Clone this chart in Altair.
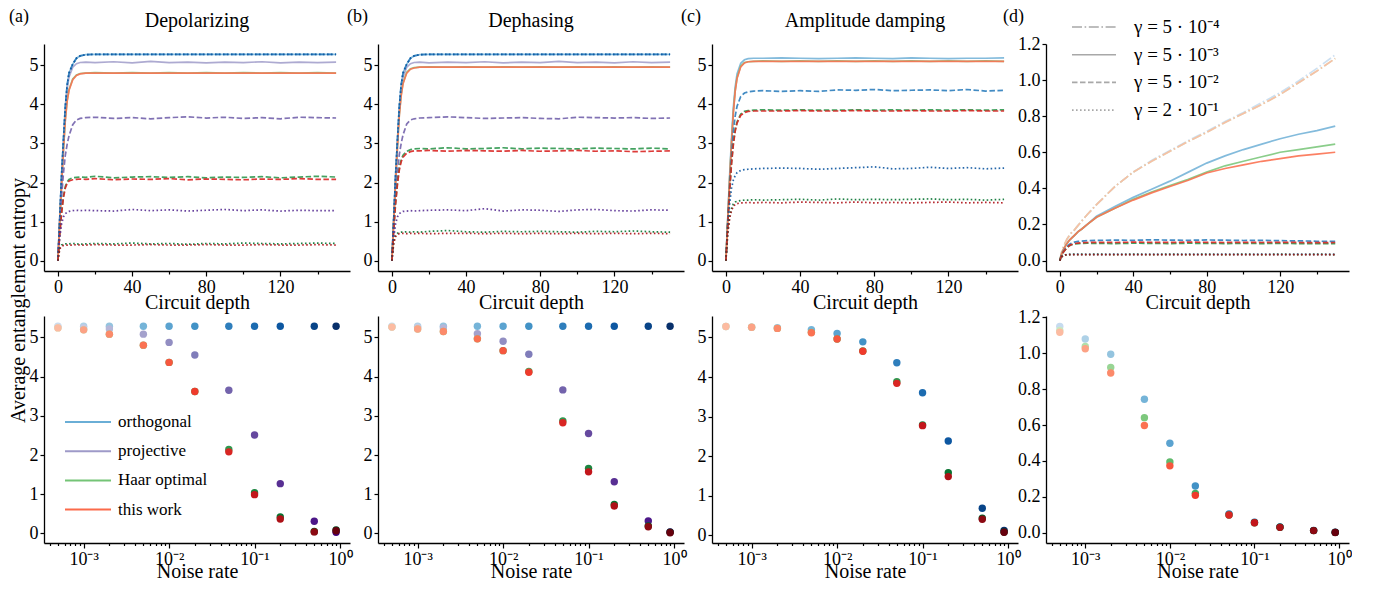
import altair as alt
import pandas as pd

FONT = "Liberation Serif"

# ---------------- data ----------------
DEPTH = [0, 1, 2, 3, 4, 5, 6, 8, 10, 12, 15, 20, 30, 40, 50, 60, 70, 80, 90, 100, 110, 120, 130, 140, 150]
NOISE = [0.0005, 0.001, 0.002, 0.005, 0.01, 0.02, 0.05, 0.1, 0.2, 0.5, 0.9]
GAMMAS = ["5e-4", "5e-3", "5e-2", "2e-1"]
GAMMA_NOISE_IDX = {"5e-4": 0, "5e-3": 3, "5e-2": 6, "2e-1": 8}
GAMMA_LABELS = ["γ = 5 · 10⁻⁴", "γ = 5 · 10⁻³", "γ = 5 · 10⁻²", "γ = 2 · 10⁻¹"]
METHODS = ["orth", "proj", "haar", "ours"]
METHOD_LABELS = ["orthogonal", "projective", "Haar optimal", "this work"]
PANEL_TITLES = {"a": "Depolarizing", "b": "Dephasing", "c": "Amplitude damping", "d": ""}
PANEL_LETTERS = {"a": "(a)", "b": "(b)", "c": "(c)", "d": "(d)"}
LOG_TICK_LABELS = {0.001: "10⁻³", 0.01: "10⁻²", 0.1: "10⁻¹", 1.0: "10⁰"}

# (a) Depolarizing, top row
A_ORTH = [0, 1.10, 2.20, 3.10, 3.95, 4.50, 4.80, 5.03, 5.18, 5.24, 5.27, 5.28, 5.28, 5.28, 5.28, 5.28, 5.28, 5.28, 5.28, 5.28, 5.28, 5.28, 5.28, 5.28, 5.28]
A_PROJ_SOLID = [0, 1.08, 2.15, 3.05, 3.85, 4.40, 4.70, 4.95, 5.04, 5.07, 5.08, 5.07, 5.09, 5.06, 5.10, 5.07, 5.08, 5.06, 5.08, 5.07, 5.09, 5.06, 5.08, 5.07, 5.08]
A_HAAR_SOLID = [0, 1.00, 1.95, 2.85, 3.62, 4.10, 4.38, 4.65, 4.75, 4.79, 4.80, 4.81, 4.80, 4.81, 4.80, 4.81, 4.80, 4.81, 4.80, 4.81, 4.80, 4.81, 4.80, 4.81, 4.80]
A_OURS_SOLID = [0, 1.00, 1.95, 2.85, 3.60, 4.08, 4.36, 4.63, 4.74, 4.78, 4.80, 4.80, 4.80, 4.80, 4.80, 4.80, 4.80, 4.80, 4.80, 4.80, 4.80, 4.80, 4.80, 4.80, 4.80]
A_PROJ_DASH = [0, 0.90, 1.65, 2.25, 2.70, 2.98, 3.20, 3.48, 3.60, 3.64, 3.66, 3.67, 3.64, 3.66, 3.63, 3.66, 3.68, 3.65, 3.67, 3.64, 3.66, 3.63, 3.67, 3.66, 3.65]
A_HAAR_DASH = [0, 0.70, 1.25, 1.65, 1.90, 2.02, 2.08, 2.12, 2.13, 2.14, 2.13, 2.16, 2.12, 2.14, 2.15, 2.13, 2.15, 2.12, 2.14, 2.13, 2.15, 2.12, 2.14, 2.16, 2.14]
A_OURS_DASH = [0, 0.68, 1.22, 1.62, 1.86, 1.98, 2.04, 2.07, 2.08, 2.09, 2.08, 2.10, 2.07, 2.09, 2.08, 2.10, 2.07, 2.09, 2.08, 2.07, 2.09, 2.08, 2.10, 2.08, 2.08]
A_PROJ_DOT = [0, 0.60, 0.95, 1.12, 1.20, 1.24, 1.26, 1.28, 1.29, 1.28, 1.29, 1.28, 1.27, 1.31, 1.28, 1.30, 1.27, 1.29, 1.31, 1.28, 1.30, 1.27, 1.29, 1.28, 1.28]
A_HAAR_DOT = [0, 0.32, 0.40, 0.42, 0.43, 0.43, 0.43, 0.44, 0.43, 0.42, 0.43, 0.44, 0.43, 0.45, 0.43, 0.44, 0.42, 0.44, 0.43, 0.45, 0.44, 0.43, 0.44, 0.45, 0.44]
A_OURS_DOT = [0, 0.30, 0.37, 0.39, 0.40, 0.40, 0.40, 0.40, 0.41, 0.40, 0.40, 0.41, 0.40, 0.40, 0.41, 0.40, 0.40, 0.41, 0.40, 0.40, 0.41, 0.40, 0.40, 0.41, 0.40]

# (b) Dephasing, top row
B_ORTH = [0, 1.10, 2.20, 3.10, 3.95, 4.50, 4.80, 5.03, 5.18, 5.24, 5.27, 5.28, 5.28, 5.28, 5.28, 5.28, 5.28, 5.28, 5.28, 5.28, 5.28, 5.28, 5.28, 5.28, 5.28]
B_PROJ_SOLID = [0, 1.08, 2.15, 3.05, 3.85, 4.40, 4.70, 4.95, 5.04, 5.07, 5.08, 5.06, 5.08, 5.07, 5.09, 5.06, 5.08, 5.07, 5.10, 5.07, 5.08, 5.06, 5.09, 5.07, 5.08]
B_HAAR_SOLID = [0, 1.03, 2.02, 2.95, 3.75, 4.25, 4.55, 4.82, 4.91, 4.94, 4.95, 4.96, 4.95, 4.96, 4.95, 4.96, 4.95, 4.96, 4.95, 4.96, 4.95, 4.96, 4.95, 4.96, 4.95]
B_OURS_SOLID = [0, 1.02, 2.00, 2.93, 3.72, 4.22, 4.53, 4.80, 4.90, 4.93, 4.95, 4.95, 4.95, 4.95, 4.95, 4.95, 4.95, 4.95, 4.95, 4.95, 4.95, 4.95, 4.95, 4.95, 4.95]
B_PROJ_DASH = [0, 0.90, 1.65, 2.25, 2.72, 3.00, 3.22, 3.50, 3.60, 3.63, 3.65, 3.66, 3.68, 3.66, 3.64, 3.65, 3.66, 3.64, 3.63, 3.67, 3.66, 3.65, 3.66, 3.64, 3.65]
B_HAAR_DASH = [0, 0.85, 1.50, 2.00, 2.38, 2.58, 2.70, 2.80, 2.84, 2.86, 2.87, 2.86, 2.89, 2.86, 2.87, 2.89, 2.86, 2.88, 2.87, 2.86, 2.88, 2.87, 2.86, 2.88, 2.86]
B_OURS_DASH = [0, 0.82, 1.46, 1.96, 2.32, 2.53, 2.65, 2.75, 2.79, 2.81, 2.81, 2.82, 2.80, 2.82, 2.81, 2.80, 2.82, 2.80, 2.81, 2.82, 2.80, 2.81, 2.79, 2.80, 2.81]
B_PROJ_DOT = [0, 0.60, 0.95, 1.12, 1.20, 1.24, 1.26, 1.27, 1.28, 1.27, 1.28, 1.29, 1.30, 1.28, 1.33, 1.27, 1.30, 1.29, 1.26, 1.30, 1.31, 1.28, 1.27, 1.30, 1.29]
B_HAAR_DOT = [0, 0.48, 0.65, 0.70, 0.72, 0.73, 0.73, 0.74, 0.73, 0.74, 0.73, 0.75, 0.77, 0.74, 0.73, 0.75, 0.74, 0.75, 0.74, 0.73, 0.75, 0.74, 0.76, 0.74, 0.73]
B_OURS_DOT = [0, 0.45, 0.62, 0.67, 0.69, 0.69, 0.70, 0.69, 0.70, 0.69, 0.70, 0.69, 0.70, 0.70, 0.69, 0.70, 0.69, 0.70, 0.69, 0.70, 0.69, 0.70, 0.69, 0.70, 0.69]

# (c) Amplitude damping, top row
C_ORTH_SOLID = [0, 1.10, 2.18, 3.10, 3.92, 4.45, 4.78, 5.05, 5.14, 5.17, 5.18, 5.18, 5.19, 5.18, 5.17, 5.18, 5.19, 5.18, 5.17, 5.19, 5.18, 5.17, 5.18, 5.18, 5.19]
C_HAAR_SOLID = [0, 1.05, 2.08, 3.00, 3.80, 4.35, 4.68, 4.98, 5.07, 5.09, 5.10, 5.11, 5.10, 5.11, 5.10, 5.11, 5.10, 5.11, 5.10, 5.11, 5.10, 5.11, 5.10, 5.11, 5.10]
C_OURS_SOLID = [0, 1.04, 2.06, 2.98, 3.78, 4.33, 4.66, 4.96, 5.06, 5.09, 5.10, 5.10, 5.10, 5.10, 5.10, 5.10, 5.10, 5.10, 5.10, 5.10, 5.10, 5.10, 5.10, 5.10, 5.10]
C_ORTH_DASH = [0, 1.00, 1.90, 2.70, 3.30, 3.70, 3.95, 4.20, 4.29, 4.32, 4.34, 4.35, 4.33, 4.35, 4.33, 4.37, 4.36, 4.38, 4.35, 4.36, 4.37, 4.35, 4.38, 4.34, 4.36]
C_HAAR_DASH = [0, 0.95, 1.80, 2.50, 3.00, 3.35, 3.55, 3.75, 3.82, 3.84, 3.85, 3.86, 3.85, 3.86, 3.85, 3.85, 3.86, 3.85, 3.86, 3.85, 3.86, 3.85, 3.86, 3.85, 3.86]
C_OURS_DASH = [0, 0.93, 1.77, 2.46, 2.96, 3.31, 3.52, 3.72, 3.79, 3.82, 3.83, 3.83, 3.83, 3.84, 3.83, 3.83, 3.84, 3.83, 3.83, 3.84, 3.83, 3.83, 3.84, 3.83, 3.83]
C_ORTH_DOT = [0, 0.85, 1.45, 1.85, 2.06, 2.18, 2.25, 2.31, 2.33, 2.34, 2.35, 2.36, 2.37, 2.36, 2.34, 2.36, 2.38, 2.40, 2.35, 2.36, 2.39, 2.36, 2.38, 2.35, 2.37]
C_HAAR_DOT = [0, 0.72, 1.12, 1.33, 1.45, 1.50, 1.52, 1.54, 1.55, 1.55, 1.56, 1.55, 1.56, 1.57, 1.55, 1.58, 1.56, 1.57, 1.56, 1.57, 1.58, 1.56, 1.57, 1.55, 1.57]
C_OURS_DOT = [0, 0.70, 1.08, 1.28, 1.39, 1.44, 1.46, 1.48, 1.48, 1.49, 1.48, 1.49, 1.48, 1.50, 1.49, 1.48, 1.50, 1.48, 1.49, 1.48, 1.49, 1.50, 1.48, 1.49, 1.48]

# (d) top row
D_ORTH_DASHDOT = [0, 0.045, 0.075, 0.10, 0.12, 0.135, 0.15, 0.17, 0.195, 0.22, 0.255, 0.31, 0.41, 0.49, 0.555, 0.61, 0.665, 0.715, 0.77, 0.82, 0.875, 0.93, 0.995, 1.065, 1.14]
D_HAAR_DASHDOT = [0, 0.045, 0.075, 0.10, 0.12, 0.135, 0.15, 0.17, 0.195, 0.22, 0.255, 0.31, 0.41, 0.49, 0.55, 0.605, 0.66, 0.71, 0.765, 0.815, 0.865, 0.92, 0.985, 1.05, 1.12]
D_OURS_DASHDOT = [0, 0.045, 0.075, 0.10, 0.12, 0.135, 0.15, 0.17, 0.195, 0.22, 0.255, 0.31, 0.41, 0.49, 0.55, 0.605, 0.66, 0.71, 0.765, 0.815, 0.865, 0.92, 0.985, 1.05, 1.12]
D_ORTH_SOLID = [0, 0.035, 0.06, 0.08, 0.095, 0.11, 0.12, 0.14, 0.16, 0.175, 0.20, 0.245, 0.30, 0.35, 0.395, 0.44, 0.49, 0.54, 0.58, 0.615, 0.645, 0.675, 0.70, 0.72, 0.745]
D_HAAR_SOLID = [0, 0.035, 0.06, 0.08, 0.095, 0.11, 0.12, 0.14, 0.16, 0.175, 0.20, 0.24, 0.29, 0.34, 0.38, 0.415, 0.45, 0.49, 0.525, 0.55, 0.575, 0.60, 0.615, 0.63, 0.645]
D_OURS_SOLID = [0, 0.035, 0.06, 0.08, 0.095, 0.11, 0.12, 0.14, 0.16, 0.175, 0.20, 0.24, 0.29, 0.335, 0.375, 0.41, 0.445, 0.485, 0.51, 0.53, 0.55, 0.565, 0.58, 0.59, 0.60]
D_ORTH_DASH = [0, 0.03, 0.05, 0.065, 0.078, 0.088, 0.094, 0.102, 0.106, 0.108, 0.110, 0.112, 0.113, 0.112, 0.115, 0.113, 0.112, 0.114, 0.113, 0.111, 0.112, 0.110, 0.109, 0.107, 0.106]
D_HAAR_DASH = [0, 0.028, 0.047, 0.060, 0.072, 0.080, 0.086, 0.092, 0.094, 0.095, 0.096, 0.095, 0.094, 0.096, 0.095, 0.094, 0.096, 0.095, 0.094, 0.095, 0.094, 0.095, 0.094, 0.093, 0.094]
D_OURS_DASH = [0, 0.028, 0.047, 0.060, 0.072, 0.081, 0.087, 0.094, 0.097, 0.099, 0.100, 0.101, 0.100, 0.102, 0.101, 0.100, 0.102, 0.101, 0.100, 0.101, 0.100, 0.101, 0.100, 0.099, 0.100]
D_ORTH_DOT = [0, 0.020, 0.029, 0.032, 0.033, 0.034, 0.034, 0.034, 0.035, 0.034, 0.035, 0.034, 0.035, 0.034, 0.035, 0.034, 0.035, 0.034, 0.035, 0.034, 0.035, 0.034, 0.035, 0.034, 0.034]
D_HAAR_DOT = [0, 0.020, 0.028, 0.031, 0.032, 0.033, 0.033, 0.034, 0.033, 0.034, 0.033, 0.034, 0.033, 0.034, 0.033, 0.034, 0.033, 0.034, 0.033, 0.034, 0.033, 0.034, 0.033, 0.034, 0.033]
D_OURS_DOT = [0, 0.020, 0.028, 0.031, 0.032, 0.033, 0.033, 0.033, 0.033, 0.033, 0.033, 0.033, 0.033, 0.033, 0.033, 0.033, 0.033, 0.033, 0.033, 0.033, 0.033, 0.033, 0.033, 0.033, 0.033]

# bottom row: saturated entropy vs noise rate
A_ORTH_PTS = [5.28, 5.28, 5.28, 5.28, 5.28, 5.28, 5.28, 5.28, 5.28, 5.28, 5.28]
A_PROJ_PTS = [5.26, 5.24, 5.21, 5.08, 4.87, 4.55, 3.65, 2.51, 1.27, 0.31, 0.03]
A_HAAR_PTS = [5.24, 5.19, 5.08, 4.80, 4.36, 3.62, 2.14, 1.04, 0.42, 0.05, 0.09]
A_OURS_PTS = [5.24, 5.19, 5.08, 4.80, 4.36, 3.62, 2.08, 0.99, 0.37, 0.04, 0.07]
B_ORTH_PTS = [5.28, 5.28, 5.28, 5.28, 5.28, 5.28, 5.28, 5.28, 5.28, 5.28, 5.28]
B_PROJ_PTS = [5.26, 5.25, 5.24, 5.09, 4.90, 4.57, 3.66, 2.55, 1.32, 0.32, 0.04]
B_HAAR_PTS = [5.26, 5.21, 5.15, 4.96, 4.66, 4.13, 2.87, 1.66, 0.74, 0.19, 0.03]
B_OURS_PTS = [5.26, 5.21, 5.15, 4.96, 4.66, 4.11, 2.82, 1.57, 0.70, 0.17, 0.02]
C_ORTH_PTS = [5.28, 5.26, 5.25, 5.20, 5.10, 4.89, 4.36, 3.60, 2.38, 0.68, 0.12]
C_HAAR_PTS = [5.28, 5.26, 5.23, 5.13, 4.96, 4.66, 3.88, 2.79, 1.58, 0.43, 0.08]
C_OURS_PTS = [5.28, 5.26, 5.23, 5.12, 4.96, 4.65, 3.84, 2.77, 1.48, 0.40, 0.07]
D_ORTH_PTS = [1.148, 1.078, 0.993, 0.743, 0.499, 0.261, 0.105, 0.060, 0.033, 0.014, 0.004]
D_HAAR_PTS = [1.125, 1.037, 0.920, 0.641, 0.394, 0.220, 0.100, 0.057, 0.032, 0.013, 0.003]
D_OURS_PTS = [1.116, 1.024, 0.889, 0.597, 0.373, 0.209, 0.100, 0.057, 0.031, 0.013, 0.002]

TOP_SERIES = [
    ("a", "orth", "5e-3", A_ORTH), ("a", "proj", "5e-3", A_PROJ_SOLID), ("a", "haar", "5e-3", A_HAAR_SOLID), ("a", "ours", "5e-3", A_OURS_SOLID),
    ("a", "orth", "5e-2", A_ORTH), ("a", "proj", "5e-2", A_PROJ_DASH), ("a", "haar", "5e-2", A_HAAR_DASH), ("a", "ours", "5e-2", A_OURS_DASH),
    ("a", "orth", "2e-1", A_ORTH), ("a", "proj", "2e-1", A_PROJ_DOT), ("a", "haar", "2e-1", A_HAAR_DOT), ("a", "ours", "2e-1", A_OURS_DOT),
    ("b", "orth", "5e-3", B_ORTH), ("b", "proj", "5e-3", B_PROJ_SOLID), ("b", "haar", "5e-3", B_HAAR_SOLID), ("b", "ours", "5e-3", B_OURS_SOLID),
    ("b", "orth", "5e-2", B_ORTH), ("b", "proj", "5e-2", B_PROJ_DASH), ("b", "haar", "5e-2", B_HAAR_DASH), ("b", "ours", "5e-2", B_OURS_DASH),
    ("b", "orth", "2e-1", B_ORTH), ("b", "proj", "2e-1", B_PROJ_DOT), ("b", "haar", "2e-1", B_HAAR_DOT), ("b", "ours", "2e-1", B_OURS_DOT),
    ("c", "orth", "5e-3", C_ORTH_SOLID), ("c", "haar", "5e-3", C_HAAR_SOLID), ("c", "ours", "5e-3", C_OURS_SOLID),
    ("c", "orth", "5e-2", C_ORTH_DASH), ("c", "haar", "5e-2", C_HAAR_DASH), ("c", "ours", "5e-2", C_OURS_DASH),
    ("c", "orth", "2e-1", C_ORTH_DOT), ("c", "haar", "2e-1", C_HAAR_DOT), ("c", "ours", "2e-1", C_OURS_DOT),
    ("d", "orth", "5e-4", D_ORTH_DASHDOT), ("d", "haar", "5e-4", D_HAAR_DASHDOT), ("d", "ours", "5e-4", D_OURS_DASHDOT),
    ("d", "orth", "5e-3", D_ORTH_SOLID), ("d", "haar", "5e-3", D_HAAR_SOLID), ("d", "ours", "5e-3", D_OURS_SOLID),
    ("d", "orth", "5e-2", D_ORTH_DASH), ("d", "haar", "5e-2", D_HAAR_DASH), ("d", "ours", "5e-2", D_OURS_DASH),
    ("d", "orth", "2e-1", D_ORTH_DOT), ("d", "haar", "2e-1", D_HAAR_DOT), ("d", "ours", "2e-1", D_OURS_DOT),
]
BOTTOM_SERIES = [
    ("a", "orth", A_ORTH_PTS), ("a", "proj", A_PROJ_PTS), ("a", "haar", A_HAAR_PTS), ("a", "ours", A_OURS_PTS),
    ("b", "orth", B_ORTH_PTS), ("b", "proj", B_PROJ_PTS), ("b", "haar", B_HAAR_PTS), ("b", "ours", B_OURS_PTS),
    ("c", "orth", C_ORTH_PTS), ("c", "haar", C_HAAR_PTS), ("c", "ours", C_OURS_PTS),
    ("d", "orth", D_ORTH_PTS), ("d", "haar", D_HAAR_PTS), ("d", "ours", D_OURS_PTS),
]

# ---------------- styling ----------------
CMAPS = {
    "orth": ["#f7fbff", "#deebf7", "#c6dbef", "#9ecae1", "#6baed6", "#4292c6", "#2171b5", "#08519c", "#08306b"],
    "proj": ["#fcfbfd", "#efedf5", "#dadaeb", "#bcbddc", "#9e9ac8", "#807dba", "#6a51a3", "#54278f", "#3f007d"],
    "haar": ["#f7fcf5", "#e5f5e0", "#c7e9c0", "#a1d99b", "#74c476", "#41ab5d", "#238b45", "#006d2c", "#00441b"],
    "ours": ["#fff5f0", "#fee0d2", "#fcbba1", "#fc9272", "#fb6a4a", "#ef3b2c", "#cb181d", "#a50f15", "#67000d"],
}
LEGEND_COLORS = ["#6aaed6", "#9e9ac8", "#74c476", "#fb6a4a"]
DASH = {"5e-4": [10, 2.6, 1.6, 2.6], "5e-3": [1, 0], "5e-2": [5.5, 2.5], "2e-1": [1.6, 2.4]}


def _rgb(h):
    return [int(h[i:i + 2], 16) for i in (1, 3, 5)]


def shade(method, t):
    cols = CMAPS[method]
    pos = t * (len(cols) - 1)
    i = min(int(pos), len(cols) - 2)
    f = pos - i
    a, b = _rgb(cols[i]), _rgb(cols[i + 1])
    return "#%02x%02x%02x" % tuple(round(x + (y - x) * f) for x, y in zip(a, b))


def noise_t(i):
    return 0.25 + 0.075 * i


rows = []
for k, (panel, method, gamma, vals) in enumerate(TOP_SERIES):
    if len(vals) != len(DEPTH):
        raise ValueError(f"series {k} has {len(vals)} values")
    col = shade(method, noise_t(GAMMA_NOISE_IDX[gamma]))
    for d, v in zip(DEPTH, vals):
        rows.append(dict(panel=panel, method=method, gamma=gamma, series=f"s{k:02d}",
                         depth=d, value=v, hex=col))
TOP_DF = pd.DataFrame(rows)

rows = []
for panel, method, vals in BOTTOM_SERIES:
    for i, (nz, v) in enumerate(zip(NOISE, vals)):
        rows.append(dict(panel=panel, method=method, mlabel=METHOD_LABELS[METHODS.index(method)],
                         noise=nz, value=v, hex=shade(method, noise_t(i)), ord=METHODS.index(method)))
BOT_DF = pd.DataFrame(rows)

LOG_TICKS = [round(k * 10 ** e, 8) for e in (-4, -3, -2, -1) for k in range(1, 10) if k * 10 ** e >= 3.5e-4] + [1.0]
LOG_LABEL_EXPR = " : ".join(f"datum.value == {v} ? '{s}'" for v, s in LOG_TICK_LABELS.items()) + " : ''"
LOG_MAJOR_TEST = " || ".join(f"datum.value == {v}" for v in LOG_TICK_LABELS)

W = {"a": 306, "b": 306, "c": 306, "d": 303}
H = 227


def x_top():
    return alt.X("depth:Q", scale=alt.Scale(domain=[-7.5, 157.5], nice=False, zero=False),
                 axis=alt.Axis(title="Circuit depth", values=[0, 20, 40, 60, 80, 100, 120, 140],
                               labelExpr="datum.value % 40 == 0 ? datum.label : ''",
                               tickSize={"condition": {"test": "datum.value % 40 == 0", "value": 5}, "value": 3},
                               labelFlush=False, labelOverlap=False))


def x_bot():
    return alt.X("noise:Q", scale=alt.Scale(type="log", domain=[10 ** -3.464, 10 ** 0.117], nice=False),
                 axis=alt.Axis(title="Noise rate", values=LOG_TICKS, labelExpr=LOG_LABEL_EXPR,
                               tickSize={"condition": {"test": LOG_MAJOR_TEST, "value": 5}, "value": 2.5},
                               labelFlush=False, labelOverlap=False, titlePadding=-7))


def y_enc(dom, vals, fmt):
    return alt.Y("value:Q", scale=alt.Scale(domain=dom, nice=False, zero=False),
                 axis=alt.Axis(values=vals, format=fmt, title=None, tickSize=4,
                               labelFlush=False, labelOverlap=False))


def annotation_layers(panel):
    out = [alt.Chart(pd.DataFrame({"lab": [PANEL_LETTERS[panel]]})).mark_text(
        align="left", baseline="middle", fontSize=18, font=FONT, color="black"
    ).encode(text="lab:N", x=alt.value(-35 if panel == "a" else (-43 if panel == "d" else -31)), y=alt.value(-27))]
    if PANEL_TITLES[panel]:
        out.append(alt.Chart(pd.DataFrame({"lab": [PANEL_TITLES[panel]]})).mark_text(
            align="center", baseline="middle", fontSize=20, font=FONT, color="black"
        ).encode(text="lab:N", x=alt.value(W[panel] / 2), y=alt.value(-23)))
    return out


def top_chart(panel, ydom, yvals, yfmt, legend=False):
    d = TOP_DF[TOP_DF.panel == panel]
    layers = []
    for g in GAMMAS:
        if not (d.gamma == g).any():
            continue
        kw = {} if g == "5e-3" else {"strokeDash": DASH[g]}
        layers.append(
            alt.Chart(d).transform_filter(alt.datum.gamma == g)
            .mark_line(strokeWidth=1.7, opacity=0.9, **kw)
            .encode(x=x_top(), y=y_enc(ydom, yvals, yfmt),
                    color=alt.Color("hex:N", scale=None), detail="series:N")
        )
    if legend:
        layers.append(
            alt.Chart(d).transform_filter("false")
            .mark_line(color="#a8a8a8", strokeWidth=1.6)
            .encode(x=x_top(), y=y_enc(ydom, yvals, yfmt),
                    strokeDash=alt.StrokeDash(
                        "glabel:N",
                        scale=alt.Scale(domain=GAMMA_LABELS, range=[DASH[g] for g in GAMMAS]),
                        legend=alt.Legend(orient="none", legendX=25, legendY=-27, title=None,
                                          symbolType="stroke", symbolSize=1936, symbolStrokeWidth=1.6,
                                          symbolStrokeColor="#a8a8a8", symbolOpacity=1,
                                          labelFont=FONT, labelFontSize=19, labelColor="black",
                                          labelOffset=17, rowPadding=7.7, clipHeight=20, padding=0)))
        )
    layers += annotation_layers(panel)
    return alt.layer(*layers).properties(width=W[panel], height=H)


def bottom_chart(panel, ydom, yvals, yfmt, legend=False):
    d = BOT_DF[BOT_DF.panel == panel]
    layers = [
        alt.Chart(d).mark_circle(size=55, opacity=1).encode(
            x=x_bot(), y=y_enc(ydom, yvals, yfmt),
            color=alt.Color("hex:N", scale=None), order=alt.Order("ord:Q"))
    ]
    if legend:
        layers.append(
            alt.Chart(d).transform_filter("false").mark_line(strokeWidth=2).encode(
                x=x_bot(), y=y_enc(ydom, yvals, yfmt),
                color=alt.Color("mlabel:N", scale=alt.Scale(domain=METHOD_LABELS, range=LEGEND_COLORS),
                                legend=alt.Legend(orient="none", legendX=20, legendY=96, title=None,
                                                  symbolType="stroke", symbolSize=2116, symbolStrokeWidth=2,
                                                  symbolOpacity=1, labelFont=FONT, labelFontSize=17,
                                                  labelColor="black", labelOffset=6, rowPadding=9.2,
                                                  clipHeight=20, padding=0)))
        )
    return alt.layer(*layers).properties(width=W[panel], height=H)


Y5 = [0, 1, 2, 3, 4, 5]
Y12 = [0, 0.2, 0.4, 0.6, 0.8, 1.0, 1.2]
RES = dict(color="independent", strokeDash="independent")

top_row = alt.hconcat(
    top_chart("a", [-0.264, 5.544], Y5, "d"),
    top_chart("b", [-0.264, 5.544], Y5, "d"),
    top_chart("c", [-0.264, 5.544], Y5, "d"),
    top_chart("d", [-0.058, 1.2], Y12, ".1f", legend=True),
    spacing=28, bounds="flush").resolve_scale(**RES)
bot_row = alt.hconcat(
    bottom_chart("a", [-0.243, 5.543], Y5, "d", legend=True),
    bottom_chart("b", [-0.243, 5.543], Y5, "d"),
    bottom_chart("c", [-0.2, 5.544], Y5, "d"),
    bottom_chart("d", [-0.056, 1.206], Y12, ".1f"),
    spacing=28, bounds="flush").resolve_scale(**RES)

chart = alt.vconcat(
    top_row, bot_row, spacing=-4, padding=0,
    title=alt.TitleParams("Average entanglement entropy", orient="left", anchor="middle",
                          fontSize=20, font=FONT, fontWeight="normal", color="black",
                          offset=0, dy=20, dx=-6),
).resolve_scale(**RES).configure(font=FONT).configure_axis(
    domainColor="black", domainWidth=1.3, tickColor="black", tickWidth=1.2,
    labelFont=FONT, labelFontSize=18, labelColor="black", labelPadding=2,
    titleFont=FONT, titleFontSize=20, titleFontWeight="normal", titleColor="black", titlePadding=-4,
    grid=False,
).configure_view(stroke=None).configure_legend(labelFont=FONT, labelColor="black")

chart.save("out.html", embed_options={"renderer": "svg", "actions": False})
